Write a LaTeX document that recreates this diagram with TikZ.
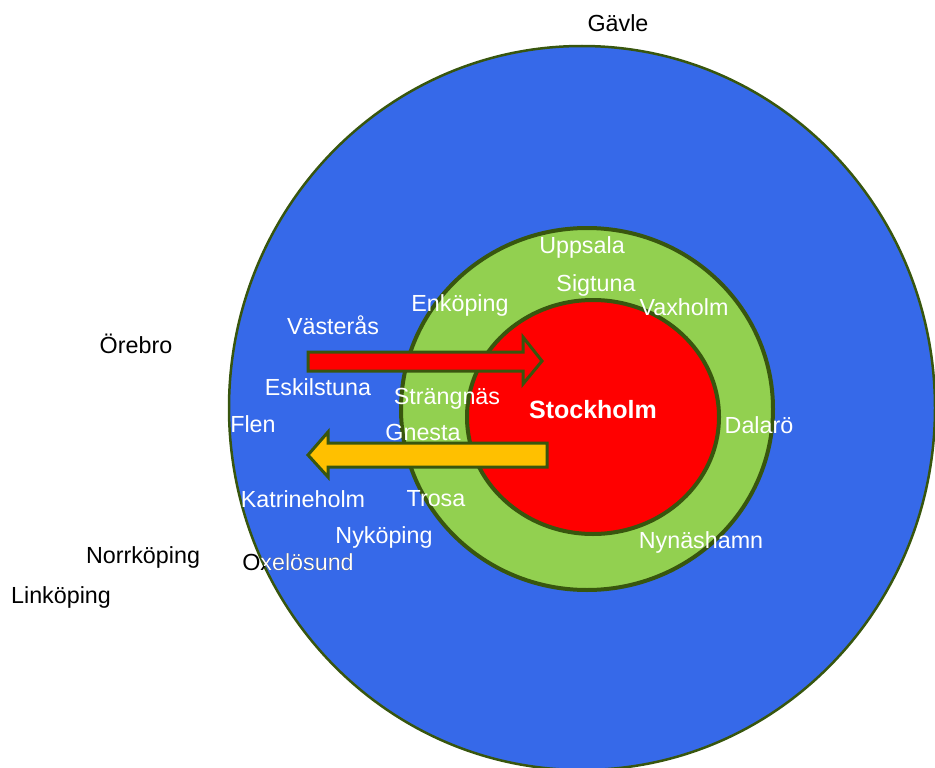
\documentclass[tikz,border=0pt]{standalone}
\usepackage{fontspec}
\setmainfont{Liberation Sans}
\definecolor{regionblue}{RGB}{54,105,233}
\definecolor{suburbgreen}{RGB}{146,208,80}
\definecolor{cityred}{RGB}{255,0,0}
\definecolor{flowgold}{RGB}{255,192,0}
\definecolor{rimgreen}{RGB}{56,86,14}
\begin{document}
\begin{tikzpicture}[x=1pt,y=-1pt,
  town/.style={text=white,inner sep=0pt,font=\fontsize{23.3}{27}\selectfont},
  fartown/.style={text=black,inner sep=0pt,font=\fontsize{23.3}{27}\selectfont}]
\useasboundingbox (0,0) rectangle (935,768);
\clip (0,0) rectangle (935,768);
\coordinate (O) at (582,408);
\coordinate (M) at (587,409);
\coordinate (I) at (593,417);
\fill[regionblue] (O) ellipse [x radius=353, y radius=362];
\draw[rimgreen,line width=2.5pt] (O) ellipse [x radius=353, y radius=362];
\draw[rimgreen,fill=suburbgreen,line width=4pt] (M) ellipse [x radius=186, y radius=181];
\draw[rimgreen,fill=cityred,line width=4pt] (I) ellipse [x radius=126, y radius=117];
% arrows in and out of the core
\draw[rimgreen,fill=cityred,line width=3pt] (308,352) -- (523,352) -- (523,337) -- (542,361)
  -- (523,384) -- (523,371) -- (308,371) -- cycle;
\draw[rimgreen,fill=flowgold,line width=3pt] (547,443) -- (328,443) -- (328,432) -- (308,455)
  -- (328,477) -- (328,467) -- (547,467) -- cycle;
\node[town,font=\fontsize{25}{29}\selectfont\bfseries] (stockholm) at (593,410) {Stockholm};
\node[town] (uppsala) at (582,247) {Uppsala};
\node[town] (sigtuna) at (596,285) {Sigtuna};
\node[town] (enkoping) at (460,305) {Enköping};
\node[town] (vaxholm) at (684,307) {Vaxholm};
\node[town] (vasteras) at (333,325) {Västerås};
\node[town] (eskilstuna) at (318,387) {Eskilstuna};
\node[town] (strangnas) at (447,399) {Strängnäs};
\node[town] (flen) at (253,424) {Flen};
\node[town] (gnesta) at (423,432) {Gnesta};
\node[town] (dalaro) at (759,425) {Dalarö};
\node[town] (katrineholm) at (303,499) {Katrineholm};
\node[town] (trosa) at (436,499) {Trosa};
\node[town] (nykoping) at (384,537) {Nyköping};
\node[town] (nynashamn) at (701,542) {Nynäshamn};
\node[fartown] (gavle) at (618,23) {Gävle};
\node[fartown] (orebro) at (136,344) {Örebro};
\node[fartown] (norrkoping) at (143,557) {Norrköping};
\node[fartown] (linkoping) at (61,597) {Linköping};
% Oxelösund sits on the rim: black outside, white inside
\node[fartown] (oxelosund) at (298,562) {Oxelösund};
\begin{scope}
\clip (O) ellipse [x radius=353, y radius=362];
\node[town] (oxelosundin) at (298,562) {Oxelösund};
\end{scope}
\end{tikzpicture}
\end{document}
